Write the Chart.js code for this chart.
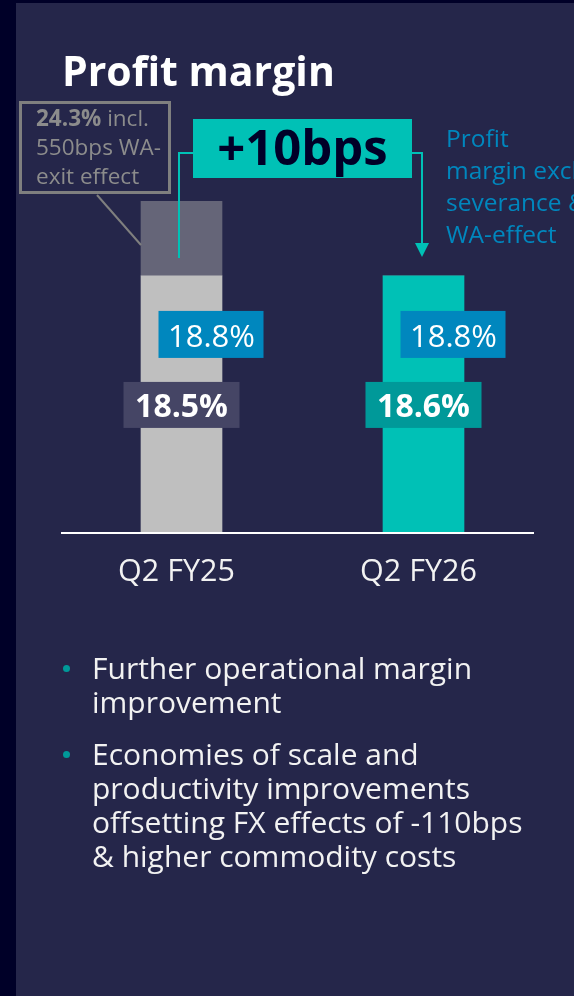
<!DOCTYPE html>
<html>
<head>
<meta charset="utf-8">
<script src="https://cdn.jsdelivr.net/npm/chart.js@4.4.1/dist/chart.umd.min.js"></script>
<style>
html, body { margin: 0; padding: 0; }
body { width: 574px; height: 996px; overflow: hidden; background: #25264a; position: relative; font-family: 'Open Sans', sans-serif; }
#strip { position: absolute; left: 0; top: 0; width: 16px; height: 996px; background: #000028; }
#topstrip { position: absolute; left: 0; top: 0; width: 574px; height: 3px; background: #000028; }
#chart { position: absolute; left: 0; top: 0; }
h1 { position: absolute; left: 62px; top: 50px; margin: 0; font-size: 41px; line-height: 41px; font-weight: 700; color: #fff; white-space: nowrap; }
ul { position: absolute; left: 0; top: 651px; margin: 0; padding: 0; list-style: none; width: 574px; }
li { position: relative; padding-left: 92px; font-size: 30px; line-height: 34px; color: #f2f2f2; margin-bottom: 18px; white-space: nowrap; }
li::before { content: ''; position: absolute; left: 63px; top: 14px; width: 7px; height: 7px; border-radius: 50%; background: #009999; }
</style>
</head>
<body>
<div id="strip"></div>
<div id="topstrip"></div>
<canvas id="chart" width="574" height="996"></canvas>
<h1>Profit margin</h1>
<ul>
  <li>Further operational margin<br>improvement</li>
  <li>Economies of scale and<br>productivity improvements<br>offsetting FX effects of -110bps<br>&amp; higher commodity costs</li>
</ul>
<script>
const categories = ['Q2 FY25', 'Q2 FY26']
const marginExcl = [18.8, 18.8]       // excl. severance & WA-effect
const waExitEffect = [5.5, 0]         // WA-exit effect, percentage points
const marginReported = [18.5, 18.6]
const deltaBps = 10
const noteLines = ['Profit', 'margin excl.', 'severance &', 'WA-effect']

const reportedTotal = marginExcl[0] + waExitEffect[0]
const pct = (v) => v.toFixed(1) + '%'

const teal = '#00c1b6'
const blue = '#0087be'

const annotations = {
    id: 'annotations',
    afterDraw(chart) {
        const { ctx } = chart
        const base = chart.getDatasetMeta(0).data
        const top = chart.getDatasetMeta(1).data
        const cx0 = base[0].x, cx1 = base[1].x
        const zero = chart.scales.y.getPixelForValue(0)

        ctx.save()

        // axis line
        ctx.fillStyle = '#ffffff'
        ctx.fillRect(61, zero, 473, 2)

        // value labels
        base.forEach((bar, i) => {
            ctx.textAlign = 'center'
            ctx.textBaseline = 'alphabetic'

            ctx.fillStyle = blue
            ctx.fillRect(bar.x - 23, bar.y + 35, 105, 47)
            ctx.fillStyle = '#ffffff'
            ctx.font = '31px "Open Sans"'
            ctx.fillText(pct(marginExcl[i]), bar.x - 23 + 53, bar.y + 35 + 36)

            ctx.fillStyle = i === 0 ? '#454565' : '#009999'
            ctx.fillRect(bar.x - 58, bar.y + 106, 116, 46)
            ctx.fillStyle = '#ffffff'
            ctx.font = 'bold 32px "Open Sans"'
            ctx.fillText(pct(marginReported[i]), bar.x, bar.y + 106 + 35)
        })

        // delta box
        const mid = (cx0 + cx1) / 2
        const boxTop = chart.chartArea.top - 82
        const boxL = mid - 109.5, boxR = mid + 109.5
        ctx.fillStyle = teal
        ctx.fillRect(boxL, boxTop, 219, 59)
        ctx.fillStyle = '#000028'
        ctx.font = 'bold 49px "Open Sans"'
        ctx.textAlign = 'center'
        ctx.fillText('+' + deltaBps + 'bps', mid, boxTop + 46)

        // connectors
        const lineY = boxTop + 34
        ctx.strokeStyle = teal
        ctx.lineWidth = 2
        ctx.beginPath()
        ctx.moveTo(cx0 - 2.5, top[0].y + 57)
        ctx.lineTo(cx0 - 2.5, lineY)
        ctx.lineTo(boxL, lineY)
        ctx.stroke()

        const ax = cx1 - 1.5
        const tip = base[1].y - 19
        ctx.beginPath()
        ctx.moveTo(boxR, lineY)
        ctx.lineTo(ax, lineY)
        ctx.lineTo(ax, tip - 14)
        ctx.stroke()
        ctx.fillStyle = teal
        ctx.beginPath()
        ctx.moveTo(ax - 7, tip - 14)
        ctx.lineTo(ax + 7, tip - 14)
        ctx.lineTo(ax, tip)
        ctx.closePath()
        ctx.fill()

        // grey callout for the WA-exit effect
        ctx.strokeStyle = '#7f7f7f'
        ctx.lineWidth = 3
        ctx.strokeRect(20.5, 102.5, 149, 90)
        ctx.lineWidth = 2
        ctx.beginPath()
        ctx.moveTo(97, 195)
        ctx.lineTo(cx0 - 40.5, top[0].y + 44)
        ctx.stroke()

        ctx.textAlign = 'left'
        ctx.fillStyle = '#8c8c8c'
        ctx.font = 'bold 22.5px "Open Sans"'
        const head = pct(reportedTotal)
        ctx.fillText(head, 36, 126)
        const w = ctx.measureText(head).width
        ctx.font = '22.5px "Open Sans"'
        ctx.fillText(' incl.', 36 + w, 126)
        ctx.fillText(Math.round(waExitEffect[0] * 100) + 'bps WA-', 36, 155)
        ctx.fillText('exit effect', 36, 184)

        // note on the right
        ctx.fillStyle = blue
        ctx.font = '24.5px "Open Sans"'
        noteLines.forEach((t, i) => ctx.fillText(t, 446, 147 + i * 32))

        ctx.restore()
    }
}

new Chart(document.getElementById('chart'), {
    type: 'bar',
    data: {
        labels: categories,
        datasets: [{
            label: 'Profit margin excl. severance & WA-effect',
            data: marginExcl,
            backgroundColor: ['#bfbfbf', teal],
            barThickness: 81,
        }, {
            label: 'WA-exit effect',
            data: waExitEffect,
            backgroundColor: '#656578',
            barThickness: 81,
        }]
    },
    options: {
        responsive: false,
        animation: false,
        layout: { padding: { top: 201, left: 60.5, right: 29.5, bottom: 0 } },
        plugins: {
            legend: { display: false },
            tooltip: { enabled: false },
        },
        scales: {
            x: {
                stacked: true,
                grid: { display: false, drawTicks: false },
                border: { display: false },
                ticks: {
                    color: '#f2f2f2',
                    font: { family: 'Open Sans', size: 30.5 },
                    padding: 22,
                    labelOffset: -5,
                },
                afterFit(scale) { scale.height = 996 - 532 },
            },
            y: {
                stacked: true,
                display: false,
                min: 0,
                max: reportedTotal,
            }
        }
    },
    plugins: [annotations]
});
</script>
</body>
</html>
